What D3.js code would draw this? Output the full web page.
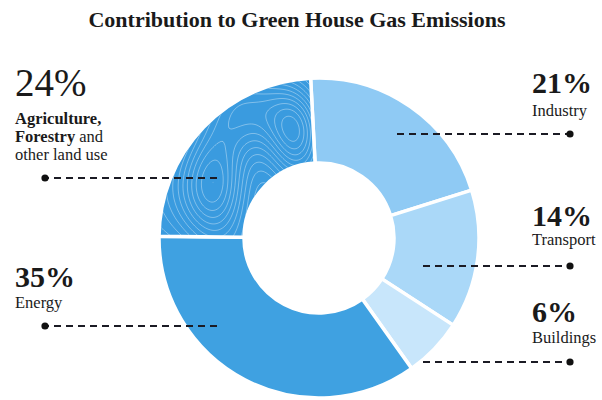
<!DOCTYPE html>
<html>
<head>
<meta charset="utf-8">
<script src="https://cdn.jsdelivr.net/npm/d3@7"></script>
<style>
  html, body { margin: 0; padding: 0; background: #ffffff; }
  svg { display: block; }
  text { font-family: "Liberation Serif", "Times New Roman", serif; fill: #1a1a1a; }
</style>
</head>
<body>
<svg id="chart" width="602" height="400"></svg>
<script>
// ---- data ----
const title = "Contribution to Green House Gas Emissions";
const categories = ["Industry", "Transport", "Buildings", "Energy", "Agriculture, Forestry and other land use"];
const values = [21, 14, 6, 35, 24];
const sliceColors = ["#8fcaf4", "#aad8f8", "#c8e6fb", "#3fa1e1", "#3a9bdf"];

// ---- layout ----
const W = 602, H = 400;
const cx = 319, cy = 238, rOuter = 160, rInner = 75;
const startOffset = -3 * Math.PI / 180;

const svg = d3.select("#chart");

svg.append("text")
  .attr("x", 297).attr("y", 27)
  .attr("text-anchor", "middle")
  .style("font-size", "22px").style("font-weight", "bold")
  .text(title);

const pie = d3.pie().sort(null).value(d => d.value)
  .startAngle(startOffset).endAngle(2 * Math.PI + startOffset);
const data = categories.map((c, i) => ({ name: c, value: values[i], color: sliceColors[i] }));
const arcs = pie(data);
const arc = d3.arc().innerRadius(rInner).outerRadius(rOuter);

const g = svg.append("g").attr("transform", `translate(${cx},${cy})`);

g.selectAll("path.slice").data(arcs).join("path")
  .attr("class", "slice")
  .attr("d", arc)
  .attr("fill", d => d.data.color)
  .attr("stroke", "#ffffff")
  .attr("stroke-width", 3.5)
  .attr("stroke-linejoin", "miter");

// topographic texture on the agriculture slice (decoration)
const agri = arcs[4];
svg.append("defs").append("clipPath").attr("id", "agriClip")
  .append("path").attr("d", d3.arc().innerRadius(rInner + 2).outerRadius(rOuter - 2)(agri))
  .attr("transform", `translate(${cx},${cy})`);

const gx0 = 150, gy0 = 65, step = 2, nx = 90, ny = 95;
const field = new Array(nx * ny);
for (let j = 0; j < ny; j++) {
  for (let i = 0; i < nx; i++) {
    const x = gx0 + i * step, y = gy0 + j * step;
    const b1 = Math.exp(-(((x - 215) / 24) ** 2 + ((y - 185) / 40) ** 2) / 2);
    const b2 = Math.exp(-(((x - 295) / 20) ** 2 + ((y - 132) / 34) ** 2) / 2);
    const b3 = 0.6 * Math.exp(-(((x - 250) / 40) ** 2 + ((y - 110) / 30) ** 2) / 2);
    field[j * nx + i] = b1 + 0.9 * b2 + b3 + 0.15 * Math.sin(x / 22) * Math.cos(y / 30);
  }
}
const contours = d3.contours().size([nx, ny]).thresholds(d3.range(-0.1, 1.3, 0.09))(field);
svg.append("g")
  .attr("clip-path", "url(#agriClip)")
  .append("g")
  .attr("transform", `translate(${gx0},${gy0}) scale(${step})`)
  .selectAll("path").data(contours).join("path")
  .attr("d", d3.geoPath())
  .attr("fill", "none")
  .attr("stroke", "#ffffff")
  .attr("stroke-opacity", 0.45)
  .attr("stroke-width", 0.4);

// ---- labels & leader lines ----
const labelLayout = [
  { side: "right", x: 532, pctY: 93, nameY: 116, lineY: 134, lineFrom: 397 },
  { side: "right", x: 532, pctY: 226, nameY: 245, lineY: 266, lineFrom: 423 },
  { side: "right", x: 532, pctY: 322, nameY: 343, lineY: 362, lineFrom: 423 },
  { side: "left",  x: 15,  pctY: 287, nameY: 308, lineY: 326, lineFrom: 217 },
  { side: "left",  x: 15,  pctY: 96,  nameY: 124, lineY: 178, lineFrom: 217 }
];
const dotX = { right: 570, left: 45 };

const ann = svg.append("g");
arcs.forEach((a, i) => {
  const L = labelLayout[i];
  const dx = dotX[L.side];
  ann.append("line")
    .attr("x1", L.lineFrom).attr("x2", dx)
    .attr("y1", L.lineY).attr("y2", L.lineY)
    .attr("stroke", "#1b1b24").attr("stroke-width", 2)
    .attr("stroke-dasharray", "7,5");
  ann.append("circle").attr("cx", dx).attr("cy", L.lineY).attr("r", 3.6).attr("fill", "#111");

  const isAgri = i === 4;
  ann.append("text")
    .attr("x", L.x).attr("y", L.pctY)
    .style("font-size", isAgri ? "39px" : "30px")
    .style("font-weight", isAgri ? "normal" : "bold")
    .text(`${a.data.value}%`);

  if (!isAgri) {
    ann.append("text")
      .attr("x", L.x).attr("y", L.nameY)
      .style("font-size", "16.5px")
      .text(a.data.name);
  } else {
    const t1 = ann.append("text").attr("x", L.x).attr("y", L.nameY).style("font-size", "16.5px");
    t1.append("tspan").style("font-weight", "bold").text("Agriculture,");
    const t2 = ann.append("text").attr("x", L.x).attr("y", L.nameY + 18).style("font-size", "16.5px");
    t2.append("tspan").style("font-weight", "bold").text("Forestry");
    t2.append("tspan").text(" and");
    ann.append("text").attr("x", L.x).attr("y", L.nameY + 36).style("font-size", "16.5px").text("other land use");
  }
});
</script>
</body>
</html>
